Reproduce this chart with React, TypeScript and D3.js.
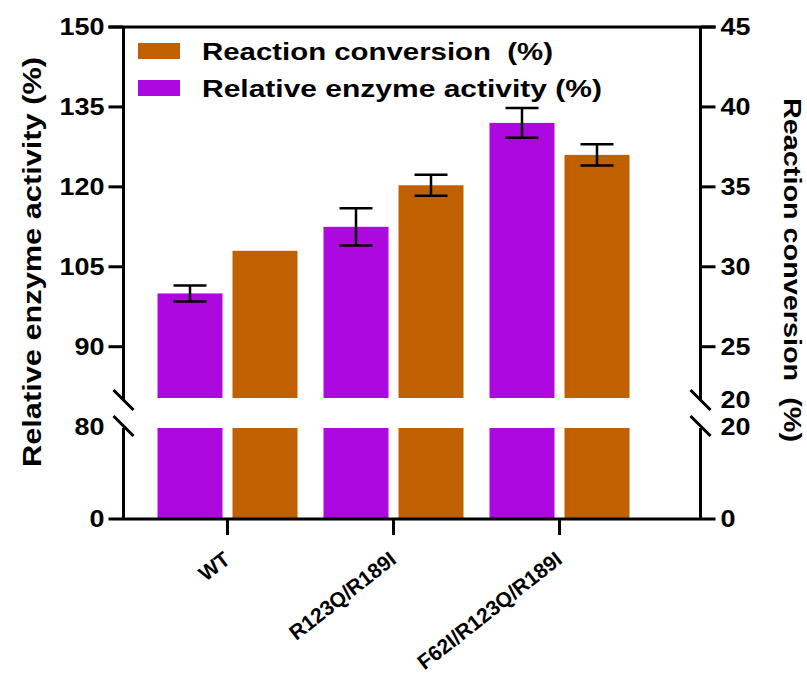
import React from "react";
import * as d3 from "d3";

const categories = ["WT", "R123Q/R189I", "F62I/R123Q/R189I"];
const activity = [100, 112.5, 132];
const activityErr = [1.5, 3.5, 2.8];
const conversion = [31, 35.1, 37];
const conversionErr = [0, 0.65, 0.66];
const leftTicksUpper = [90, 105, 120, 135, 150];
const rightTicksUpper = [25, 30, 35, 40, 45];
const leftBreakLabels = [80, 0];
const rightBreakLabels = [20, 20, 0];
const legendLabels = ["Reaction conversion\u00A0\u00A0(%)", "Relative enzyme activity (%)"];
const leftTitle = "Relative enzyme activity (%)";
const rightTitle = "Reaction conversion\u00A0\u00A0(%)";

const PURPLE = "#AE08E0";
const ORANGE = "#C06000";
const FONT = "'Liberation Sans', Arial, Helvetica, sans-serif";

export default function App() {
  const W = 807, H = 673;
  const axL = 123.5, axR = 700.5;
  const upTop = 27, upBot = 400, lowTop = 428, lowBot = 519;

  const yL = d3.scaleLinear().domain([80, 150]).range([upBot, upTop]);
  const yR = d3.scaleLinear().domain([25, 45]).range([yL(90), yL(150)]);
  const yLlow = d3.scaleLinear().domain([0, 80]).range([lowBot, lowTop]);
  const yRlow = d3.scaleLinear().domain([0, 20]).range([lowBot, lowTop]);
  const x = d3.scaleBand<string>().domain(categories).range([144.5, 642.5]);
  const bw = 65, gap = 5;
  const cx = (c: string) => (x(c) as number) + x.bandwidth() / 2;

  const digitW = 15;
  const tickLen = 15;

  const errBar = (key: string, xc: number, y1: number, y2: number) => (
    <g key={key} stroke="#000" strokeWidth={2.5}>
      <line x1={xc} x2={xc} y1={y1} y2={y2} />
      <line x1={xc - 16.5} x2={xc + 16.5} y1={y1} y2={y1} />
      <line x1={xc - 16.5} x2={xc + 16.5} y1={y2} y2={y2} />
    </g>
  );

  const breakMark = (key: string, ax: number, y: number) => (
    <line key={key} x1={ax - 10} y1={y - 10} x2={ax + 10} y2={y + 10} stroke="#000" strokeWidth={3} />
  );

  return (
    <svg width={W} height={H} style={{ position: "absolute", left: 0, top: 0, background: "#fff" }}
      fontFamily={FONT} fontWeight="bold">
      <rect x={0} y={0} width={W} height={H} fill="#fff" />
      {/* bars */}
      {categories.map((c, i) => {
        const c0 = cx(c);
        const px = c0 - gap - bw, ox = c0 + gap;
        return (
          <g key={c}>
            <rect x={px} width={bw} y={yL(activity[i])} height={upBot - 2 - yL(activity[i])} fill={PURPLE} />
            <rect x={ox} width={bw} y={yR(conversion[i])} height={upBot - 2 - yR(conversion[i])} fill={ORANGE} />
            <rect x={px} width={bw} y={yLlow(80)} height={yLlow(0) - yLlow(80)} fill={PURPLE} />
            <rect x={ox} width={bw} y={yRlow(20)} height={yRlow(0) - yRlow(20)} fill={ORANGE} />
          </g>
        );
      })}
      {/* error bars */}
      {categories.map((c, i) => {
        const c0 = cx(c);
        const out = [errBar(c + "a", c0 - gap - bw / 2, yL(activity[i] + activityErr[i]), yL(activity[i] - activityErr[i]))];
        if (conversionErr[i] > 0)
          out.push(errBar(c + "c", c0 + gap + bw / 2, yR(conversion[i] + conversionErr[i]), yR(conversion[i] - conversionErr[i])));
        return out;
      })}
      {/* frame lines */}
      <g stroke="#000" strokeWidth={3} fill="none">
        <line x1={axL - tickLen} x2={axR + tickLen} y1={upTop} y2={upTop} />
        <line x1={axL - tickLen} x2={axR + tickLen} y1={lowBot} y2={lowBot} />
        <line x1={axL} x2={axL} y1={upTop} y2={upBot} />
        <line x1={axL} x2={axL} y1={lowTop} y2={lowBot} />
        <line x1={axR} x2={axR} y1={upTop} y2={upBot} />
        <line x1={axR} x2={axR} y1={lowTop} y2={lowBot} />
        {leftTicksUpper.map((t) => (
          <line key={"lt" + t} x1={axL - tickLen} x2={axL} y1={yL(t)} y2={yL(t)} />
        ))}
        {rightTicksUpper.map((t) => (
          <line key={"rt" + t} x1={axR} x2={axR + tickLen} y1={yR(t)} y2={yR(t)} />
        ))}
        {categories.map((c) => (
          <line key={"xt" + c} x1={cx(c)} x2={cx(c)} y1={lowBot} y2={lowBot + 16} />
        ))}
      </g>
      {breakMark("b1", axL, upBot)}
      {breakMark("b2", axL, lowTop - 2)}
      {breakMark("b3", axR, upBot)}
      {breakMark("b4", axR, lowTop - 2)}
      {/* left tick labels */}
      <g fontSize={23} textAnchor="end" dominantBaseline="central" fill="#000">
        {leftTicksUpper.map((t) => (
          <text key={"ll" + t} x={axL - tickLen - 4} y={yL(t)} textLength={String(t).length * digitW} lengthAdjust="spacingAndGlyphs">{t}</text>
        ))}
        <text x={axL - tickLen - 4} y={yLlow(leftBreakLabels[0]) - 1} textLength={2 * digitW} lengthAdjust="spacingAndGlyphs">{leftBreakLabels[0]}</text>
        <text x={axL - tickLen - 4} y={yLlow(leftBreakLabels[1])} textLength={digitW} lengthAdjust="spacingAndGlyphs">{leftBreakLabels[1]}</text>
      </g>
      {/* right tick labels */}
      <g fontSize={23} textAnchor="start" dominantBaseline="central" fill="#000">
        {rightTicksUpper.map((t) => (
          <text key={"rl" + t} x={axR + tickLen + 5} y={yR(t)} textLength={String(t).length * digitW} lengthAdjust="spacingAndGlyphs">{t}</text>
        ))}
        <text x={axR + tickLen + 5} y={upBot} textLength={2 * digitW} lengthAdjust="spacingAndGlyphs">{rightBreakLabels[0]}</text>
        <text x={axR + tickLen + 5} y={yRlow(rightBreakLabels[1]) - 1} textLength={2 * digitW} lengthAdjust="spacingAndGlyphs">{rightBreakLabels[1]}</text>
        <text x={axR + tickLen + 5} y={yRlow(rightBreakLabels[2])} textLength={digitW} lengthAdjust="spacingAndGlyphs">{rightBreakLabels[2]}</text>
      </g>
      {/* x labels */}
      <g fontSize={21} textAnchor="end" fill="#000">
        {categories.map((c) => (
          <text key={"xl" + c} transform={`translate(${cx(c) + 4},${lowBot + 43}) rotate(-38)`}>{c}</text>
        ))}
      </g>
      {/* legend */}
      <g fill="#000" fontSize={23}>
        <rect x={138} y={43} width={42} height={16} fill={ORANGE} />
        <rect x={138} y={80} width={42} height={16} fill={PURPLE} />
        <text x={202} y={60} textLength={351} lengthAdjust="spacingAndGlyphs">{legendLabels[0]}</text>
        <text x={202} y={97} textLength={400} lengthAdjust="spacingAndGlyphs">{legendLabels[1]}</text>
      </g>
      {/* axis titles */}
      <text transform={`translate(32,262) rotate(-90)`} textAnchor="middle" dominantBaseline="central"
        fontSize={25} textLength={410} lengthAdjust="spacingAndGlyphs" fill="#000">{leftTitle}</text>
      <text transform={`translate(792,270) rotate(90)`} textAnchor="middle" dominantBaseline="central"
        fontSize={24} textLength={344} lengthAdjust="spacingAndGlyphs" fill="#000">{rightTitle}</text>
    </svg>
  );
}
